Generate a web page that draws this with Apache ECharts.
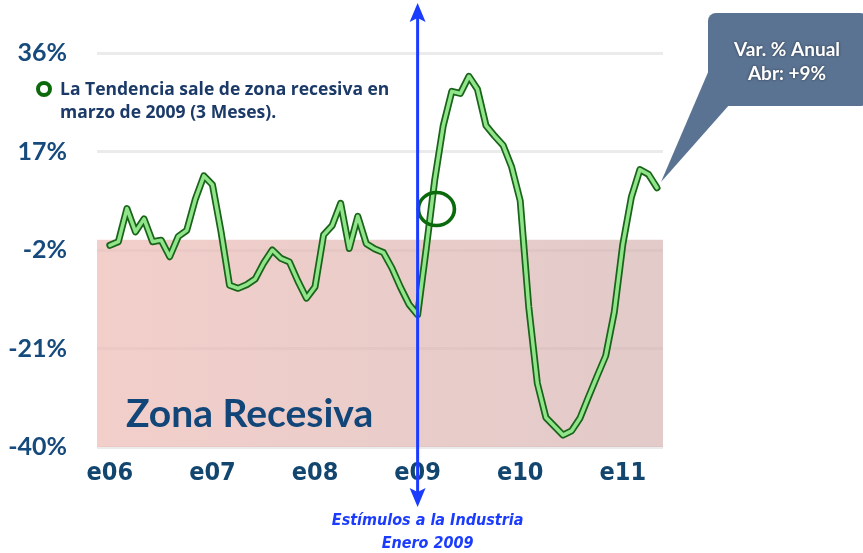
<!DOCTYPE html>
<html>
<head>
<meta charset="utf-8">
<script src="https://cdn.jsdelivr.net/npm/echarts@6/dist/echarts.min.js"></script>
<style>
  html, body { margin: 0; padding: 0; background: #fff; }
  #main { width: 863px; height: 553px; }
</style>
</head>
<body>
<div id="main"></div>
<script>
// Var. % anual, mensual desde enero 2006 (índice 0) hasta mayo 2011
var tendencia = [
    -1.1, -0.4, 6.0, 1.5, 4.0, -0.4, -0.1, -3.3, 0.6, 1.8, 7.8, 12.3,
    10.6, 1.6, -8.8, -9.4, -8.7, -7.6, -4.5, -2.0, -3.6, -4.3, -8.0, -11.3,
    -9.1, 0.9, 2.7, 7.0, -1.7, 4.5, -0.8, -1.8, -2.5, -5.5, -9.2, -12.5,
    -14.5, -1.8, 11.5, 22.0, 28.6, 28.2, 31.5, 29.0, 22.0, 20.0, 18.2, 14.0,
    7.5, -13.0, -27.7, -34.3, -36.0, -37.7, -36.9, -34.4, -30.3, -26.3, -22.4, -14.0,
    -0.9, 8.2, 13.5, 12.6, 10.0
];
var etiquetasX = ['e06', 'e07', 'e08', 'e09', 'e10', 'e11'];
var posEtiquetasX = [0, 12, 24, 36, 48, 60];
var ejeY = [-40, -21, -2, 17, 36];
var zonaRecesiva = [0, -40];
var estimulo = 36;          // enero 2009
var salida = [[38.2, 5.9]]; // marzo 2009

var puntos = tendencia.map(function (v, i) { return [i, v]; });

var condensada = '"DejaVu Sans Condensed", "DejaVu Sans", sans-serif';

var myChart = echarts.init(document.getElementById('main'));

var option = {
    backgroundColor: '#ffffff',
    animation: false,
    grid: { left: 97, right: 200, top: 53, bottom: 106 },
    xAxis: {
        type: 'value',
        min: -1.5,
        max: 64.7,
        axisLine: { show: false },
        axisTick: { show: false },
        splitLine: { show: false },
        axisLabel: {
            customValues: posEtiquetasX,
            formatter: function (v) { return etiquetasX[posEtiquetasX.indexOf(v)]; },
            margin: 14,
            color: '#13466f',
            fontFamily: condensada,
            fontWeight: 'bold',
            fontSize: 25
        }
    },
    yAxis: {
        type: 'value',
        min: ejeY[0],
        max: ejeY[ejeY.length - 1],
        interval: 19,
        axisLine: { show: false },
        axisTick: { show: false },
        splitLine: { lineStyle: { color: '#ebebeb', width: 3 } },
        axisLabel: {
            formatter: '{value}%',
            margin: 30,
            color: '#174a7c',
            fontFamily: 'Lato',
            fontWeight: 'bold',
            fontSize: 25
        }
    },
    series: [
        {
            name: 'borde',
            type: 'line',
            data: puntos,
            showSymbol: false,
            silent: true,
            z: 3,
            lineStyle: { color: '#1a641a', width: 7, join: 'round', cap: 'round' },
            markArea: {
                silent: true,
                itemStyle: {
                    color: {
                        type: 'linear', x: 0, y: 0, x2: 1, y2: 0,
                        colorStops: [
                            { offset: 0, color: 'rgba(238,188,182,0.72)' },
                            { offset: 1, color: 'rgba(212,178,176,0.68)' }
                        ]
                    }
                },
                label: {
                    show: true,
                    position: 'insideBottomLeft',
                    offset: [24, -8],
                    formatter: 'Zona Recesiva',
                    color: '#124678',
                    fontFamily: 'Lato',
                    fontWeight: 'bold',
                    fontSize: 39
                },
                data: [[{ yAxis: zonaRecesiva[0] }, { yAxis: zonaRecesiva[1] }]]
            }
        },
        {
            name: 'Tendencia',
            type: 'line',
            data: puntos,
            showSymbol: false,
            silent: true,
            z: 4,
            lineStyle: { color: '#90e58b', width: 3.5, join: 'round', cap: 'round' }
        },
        {
            name: 'salida',
            type: 'scatter',
            data: salida,
            symbol: 'circle',
            symbolSize: [36, 33],
            silent: true,
            z: 5,
            itemStyle: { color: 'transparent', borderColor: '#0b6a0b', borderWidth: 3.5, opacity: 1 }
        }
    ]
};

myChart.setOption(option);

// anotaciones: flecha de estímulos, nota de tendencia y globo
var xf = myChart.convertToPixel({ xAxisIndex: 0 }, estimulo);
var azul = '#1b3cff';
var nota = 'bold 17.5px "Open Sans"';
var globo = 'bold 19px Lato';
myChart.setOption({
    graphic: [
        { type: 'line', shape: { x1: xf, y1: 18, x2: xf, y2: 492 },
          style: { stroke: azul, lineWidth: 3 }, z: 10 },
        { type: 'polygon', shape: { points: [[xf, 3], [xf + 8, 22], [xf, 18], [xf - 8, 22]] },
          style: { fill: azul }, z: 10 },
        { type: 'polygon', shape: { points: [[xf, 507], [xf + 8, 488], [xf, 492], [xf - 8, 488]] },
          style: { fill: azul }, z: 10 },
        { type: 'text', x: xf + 10, y: 521,
          style: { text: 'Estímulos a la Industria', fill: azul, align: 'center', verticalAlign: 'middle',
                   font: 'italic bold 16px ' + condensada }, z: 10 },
        { type: 'text', x: xf + 10, y: 544,
          style: { text: 'Enero 2009', fill: azul, align: 'center', verticalAlign: 'middle',
                   font: 'italic bold 16px ' + condensada }, z: 10 },

        { type: 'circle', shape: { cx: 44, cy: 89, r: 6 },
          style: { fill: 'none', stroke: '#0b6a0b', lineWidth: 4 }, z: 10 },
        { type: 'text', x: 60, y: 90,
          style: { text: 'La Tendencia sale de zona recesiva en', fill: '#1b3a68', verticalAlign: 'middle',
                   font: nota }, z: 10 },
        { type: 'text', x: 60, y: 113,
          style: { text: 'marzo de 2009 (3 Meses).', fill: '#1b3a68', verticalAlign: 'middle',
                   font: nota }, z: 10 },

        { type: 'polygon', shape: { points: [[709, 70], [730, 104], [661, 182]] },
          style: { fill: '#5a7392' }, z: 10 },
        { type: 'rect', shape: { x: 708, y: 13, width: 160, height: 93, r: 8 },
          style: { fill: '#5a7392' }, z: 10 },
        { type: 'text', x: 787, y: 50,
          style: { text: 'Var. % Anual', fill: '#ffffff', align: 'center', verticalAlign: 'middle',
                   font: globo, textShadowColor: 'rgba(0,0,0,0.5)', textShadowBlur: 3 }, z: 11 },
        { type: 'text', x: 787, y: 74,
          style: { text: 'Abr: +9%', fill: '#ffffff', align: 'center', verticalAlign: 'middle',
                   font: globo, textShadowColor: 'rgba(0,0,0,0.5)', textShadowBlur: 3 }, z: 11 }
    ]
});
</script>
</body>
</html>
